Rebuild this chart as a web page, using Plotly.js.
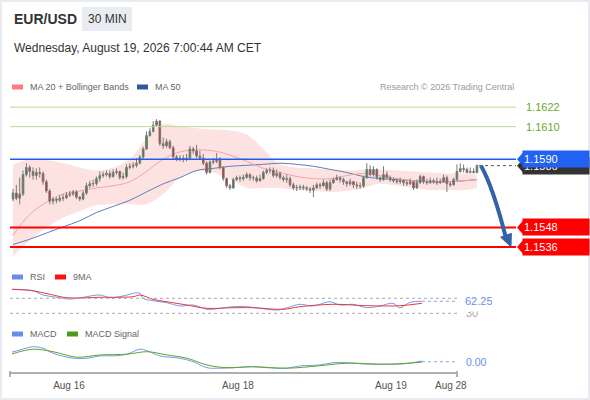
<!DOCTYPE html>
<html><head><meta charset="utf-8">
<script src="https://cdn.plot.ly/plotly-3.0.1.min.js"></script>
<style>html,body{margin:0;padding:0;background:#fff}#chart{width:590px;height:400px}</style>
</head><body><div id="chart"></div>
<script>
const W=590,H=400;
const px=x=>x/W, py=y=>1-y/H;
const FONT="Liberation Sans, Arial, sans-serif";

// ---- data ----
const opens=[1.15654,1.15692,1.15660,1.15685,1.15805,1.15849,1.15824,1.15799,1.15818,1.15812,
1.15761,1.15704,1.15641,1.15654,1.15647,1.15660,1.15662,1.15679,1.15685,1.15698,
1.15666,1.15654,1.15692,1.15736,1.15748,1.15750,1.15780,1.15799,1.15805,1.15812,
1.15793,1.15818,1.15824,1.15786,1.15793,1.15849,1.15856,1.15862,1.15875,1.15913,
1.15963,1.16045,1.16071,1.16109,1.16134,1.15995,1.15982,1.16007,1.15970,1.15913,
1.15900,1.15906,1.15898,1.15906,1.15963,1.15951,1.15919,1.15906,1.15875,1.15818,
1.15881,1.15887,1.15900,1.15849,1.15780,1.15736,1.15723,1.15774,1.15786,1.15780,
1.15788,1.15805,1.15786,1.15784,1.15767,1.15780,1.15818,1.15830,1.15832,1.15799,
1.15812,1.15786,1.15774,1.15780,1.15742,1.15723,1.15725,1.15729,1.15723,1.15717,
1.15710,1.15723,1.15742,1.15736,1.15755,1.15717,1.15755,1.15774,1.15786,1.15774,
1.15761,1.15748,1.15761,1.15742,1.15736,1.15734,1.15786,1.15837,1.15805,1.15837,
1.15786,1.15774,1.15805,1.15786,1.15774,1.15767,1.15761,1.15767,1.15755,1.15748,
1.15761,1.15723,1.15755,1.15793,1.15761,1.15755,1.15767,1.15761,1.15755,1.15761,
1.15786,1.15748,1.15742,1.15774,1.15824,1.15843,1.15837,1.15818,1.15824,1.15818];
const highs=[1.15717,1.15742,1.15786,1.15830,1.15875,1.15862,1.15849,1.15843,1.15849,1.15824,
1.15774,1.15717,1.15666,1.15666,1.15679,1.15685,1.15698,1.15704,1.15710,1.15710,
1.15673,1.15704,1.15755,1.15767,1.15774,1.15793,1.15824,1.15824,1.15830,1.15830,
1.15837,1.15843,1.15830,1.15818,1.15868,1.15875,1.15881,1.15906,1.15925,1.15976,
1.16071,1.16090,1.16134,1.16146,1.16140,1.16033,1.16026,1.16020,1.15982,1.15925,
1.15925,1.15925,1.15932,1.15982,1.15976,1.15988,1.15951,1.15932,1.15887,1.15894,
1.15906,1.15938,1.15913,1.15856,1.15786,1.15748,1.15786,1.15799,1.15799,1.15805,
1.15818,1.15812,1.15799,1.15799,1.15805,1.15830,1.15843,1.15849,1.15849,1.15837,
1.15824,1.15799,1.15805,1.15793,1.15755,1.15742,1.15742,1.15742,1.15736,1.15729,
1.15742,1.15755,1.15755,1.15774,1.15767,1.15774,1.15786,1.15805,1.15793,1.15786,
1.15767,1.15780,1.15767,1.15761,1.15755,1.15799,1.15875,1.15862,1.15856,1.15843,
1.15793,1.15856,1.15824,1.15799,1.15786,1.15780,1.15786,1.15774,1.15767,1.15780,
1.15761,1.15774,1.15805,1.15799,1.15780,1.15786,1.15780,1.15786,1.15780,1.15805,
1.15799,1.15761,1.15786,1.15868,1.15875,1.15868,1.15849,1.15849,1.15843,1.15868];
const lows=[1.15641,1.15647,1.15622,1.15673,1.15793,1.15786,1.15774,1.15774,1.15786,1.15742,
1.15692,1.15622,1.15622,1.15628,1.15635,1.15641,1.15654,1.15666,1.15673,1.15654,
1.15641,1.15647,1.15679,1.15723,1.15729,1.15736,1.15761,1.15786,1.15793,1.15780,
1.15786,1.15805,1.15774,1.15774,1.15780,1.15837,1.15843,1.15849,1.15868,1.15900,
1.15957,1.16039,1.16064,1.16102,1.15982,1.15963,1.15970,1.15963,1.15900,1.15887,
1.15887,1.15881,1.15887,1.15894,1.15932,1.15906,1.15894,1.15862,1.15805,1.15812,
1.15868,1.15875,1.15837,1.15767,1.15723,1.15710,1.15717,1.15767,1.15761,1.15767,
1.15780,1.15767,1.15767,1.15755,1.15761,1.15774,1.15805,1.15812,1.15786,1.15786,
1.15774,1.15761,1.15755,1.15729,1.15710,1.15704,1.15710,1.15710,1.15704,1.15692,
1.15666,1.15717,1.15717,1.15729,1.15704,1.15704,1.15748,1.15767,1.15755,1.15742,
1.15729,1.15736,1.15723,1.15717,1.15717,1.15723,1.15780,1.15793,1.15793,1.15774,
1.15761,1.15767,1.15780,1.15761,1.15755,1.15748,1.15748,1.15736,1.15736,1.15742,
1.15710,1.15717,1.15748,1.15748,1.15742,1.15748,1.15748,1.15742,1.15748,1.15755,
1.15698,1.15729,1.15736,1.15767,1.15818,1.15818,1.15812,1.15812,1.15812,1.15812];
const closes=[1.15692,1.15660,1.15685,1.15805,1.15849,1.15824,1.15799,1.15818,1.15812,1.15761,
1.15704,1.15641,1.15654,1.15647,1.15660,1.15662,1.15679,1.15685,1.15698,1.15666,
1.15654,1.15692,1.15736,1.15748,1.15750,1.15780,1.15799,1.15805,1.15812,1.15793,
1.15818,1.15824,1.15786,1.15793,1.15849,1.15856,1.15862,1.15875,1.15913,1.15963,
1.16045,1.16071,1.16109,1.16134,1.15995,1.15982,1.16007,1.15970,1.15913,1.15900,
1.15906,1.15898,1.15906,1.15963,1.15951,1.15919,1.15906,1.15875,1.15818,1.15881,
1.15887,1.15900,1.15849,1.15780,1.15736,1.15723,1.15774,1.15786,1.15780,1.15788,
1.15805,1.15786,1.15784,1.15767,1.15780,1.15818,1.15830,1.15832,1.15799,1.15812,
1.15786,1.15774,1.15780,1.15742,1.15723,1.15725,1.15729,1.15723,1.15717,1.15710,
1.15723,1.15742,1.15736,1.15755,1.15717,1.15755,1.15774,1.15786,1.15774,1.15761,
1.15748,1.15761,1.15742,1.15736,1.15734,1.15786,1.15837,1.15805,1.15837,1.15786,
1.15774,1.15805,1.15786,1.15774,1.15767,1.15761,1.15767,1.15755,1.15748,1.15761,
1.15723,1.15755,1.15793,1.15761,1.15755,1.15767,1.15761,1.15755,1.15761,1.15786,
1.15748,1.15742,1.15774,1.15824,1.15843,1.15837,1.15818,1.15824,1.15818,1.15860];

const maIdx=[0,5,10,15,20,25,30,35,40,45,50,55,60,65,70,75,80,85,90,95,100,105,110,115,120,125,130,135,139];
const ma20=[1.15432,1.15559,1.15635,1.15685,1.15704,1.15723,1.15736,1.15761,1.15824,1.15900,1.15944,1.15957,1.15951,1.15925,1.15887,1.15843,1.15818,1.15793,1.15780,1.15780,1.15799,1.15812,1.15799,1.15780,1.15767,1.15761,1.15761,1.15767,1.15774];
const ma50=[1.15375,1.15407,1.15445,1.15483,1.15521,1.15571,1.15609,1.15647,1.15698,1.15748,1.15786,1.15830,1.15843,1.15856,1.15862,1.15868,1.15875,1.15868,1.15856,1.15837,1.15818,1.15793,1.15780,1.15774,1.15767,1.15761,1.15761,1.15767,1.15774];
const bbUpper=[1.15868,1.15900,1.15894,1.15875,1.15849,1.15830,1.15849,1.15900,1.16026,1.16115,1.16102,1.16090,1.16083,1.16077,1.16052,1.15963,1.15868,1.15849,1.15843,1.15837,1.15830,1.15837,1.15837,1.15830,1.15824,1.15818,1.15812,1.15812,1.15805];
const bbLower=[1.15300,1.15400,1.15480,1.15540,1.15580,1.15616,1.15622,1.15622,1.15622,1.15685,1.15786,1.15824,1.15818,1.15774,1.15723,1.15723,1.15723,1.15710,1.15704,1.15698,1.15704,1.15723,1.15748,1.15736,1.15723,1.15710,1.15710,1.15710,1.15723];

const rsiIdx=[-0.2,6.9,10.3,15.0,19.4,23.9,29.6,33.0,37.4,42.2,43.2,44.2,47.6,52.3,56.7,61.2,65.9,70.3,74.7,79.5,83.9,89.6,93.1,97.4,101.8,107.6,111.0,115.4,120.2,124.6,129.0,131.3,134.7,138.8];
const rsiVals=[94,90.3,78.8,72.7,68.1,72.7,78.8,71.6,76.1,84.9,83.3,70,63.6,58.3,49.5,52.1,40.7,43.3,47.6,47.6,43.3,38.8,44.9,54,49.5,60.9,52.1,54,44.9,49.5,56.7,44.9,59,62.25];
const rsiMaIdx=[-0.2,6.9,12.7,18.4,29.6,40.8,43.2,47.6,52.3,59.1,65.9,74.7,81.5,91.7,97.4,108.6,120.2,131.3,138.8];
const rsiMaVals=[94,90,80.7,71.6,72.7,74.3,78.8,67.3,60.9,52.1,43.3,44.9,44.9,40.7,47.6,54,50.3,50.3,56.7];
const macdIdx=[-0.2,2.5,6.9,10.3,13.7,20.5,25.2,29.6,35.4,38.8,43.2,45.6,50.0,56.7,61.2,65.9,70.3,74.7,81.5,86.2,93.0,97.4,104.2,108.6,113.4,120.2,126.9,132.4,138.8];
const macdVals=[0.00038,0.00047,0.00060,0.00054,0.00034,0.00014,0.00014,0.00023,0.00024,0.00030,0.00050,0.00044,0.00023,0.00014,0.00000,-0.00024,-0.00026,-0.00024,-0.00020,-0.00024,-0.00026,-0.00017,-0.00013,-0.00004,-0.00004,-0.00010,-0.00010,-0.00009,0.00003];
const sigIdx=[-0.2,6.9,13.7,21.8,29.6,38.8,45.6,52.3,59.1,65.9,72.7,81.5,93.0,104.2,113.4,126.9,138.8];
const sigVals=[0.00031,0.00050,0.00040,0.00018,0.00027,0.00030,0.00040,0.00027,0.00014,-0.00013,-0.00024,-0.00020,-0.00026,-0.00016,-0.00006,-0.00010,-0.00002];

const levels=[1.1622,1.1610,1.1590,1.1548,1.1536];
const levelKinds=['res','res','pivot','sup','sup'];
const tickIdx=[19.1,76.4,128.3,148.6];
const tickText=['Aug 16','Aug 18','Aug 19','Aug 28'];
const rsiLevels=[70,30];
const lastPrice=1.1586, rsiLast=62.25, macdLast=0.00;
const target=1.1536;

// ---- layout geometry ----
const XR=[-0.9,150.7];
const YR=[1.152977,1.162948];
const N=closes.length, last=N-1;
const candleIdx=closes.map((_,i)=>i);

const traces=[
 {type:'scatter',x:maIdx,y:bbLower,mode:'lines',line:{width:0,shape:'spline',color:'rgba(0,0,0,0)'},xaxis:'x',yaxis:'y',hoverinfo:'skip'},
 {type:'scatter',x:maIdx,y:bbUpper,mode:'lines',line:{width:0,shape:'spline',color:'rgba(0,0,0,0)'},fill:'tonexty',fillcolor:'#fde2e2',xaxis:'x',yaxis:'y',hoverinfo:'skip'},
 {type:'scatter',x:maIdx,y:ma50,mode:'lines',line:{width:1,shape:'spline',color:'#5d80c0'},xaxis:'x',yaxis:'y'},
 {type:'scatter',x:maIdx,y:ma20,mode:'lines',line:{width:1,shape:'spline',color:'#f5a3a3'},xaxis:'x',yaxis:'y'},
 {type:'candlestick',x:candleIdx,open:opens,high:highs,low:lows,close:closes,xaxis:'x4',yaxis:'y4',
  increasing:{line:{color:'#7a7a7a',width:1},fillcolor:'#2e8a2e'},
  decreasing:{line:{color:'#7a7a7a',width:1},fillcolor:'#e01818'},whiskerwidth:0},
 {type:'scatter',x:rsiIdx,y:rsiVals,mode:'lines',line:{width:1,shape:'spline',color:'#7b98ea'},xaxis:'x2',yaxis:'y2'},
 {type:'scatter',x:rsiMaIdx,y:rsiMaVals,mode:'lines',line:{width:1,shape:'spline',color:'#e83a3a'},xaxis:'x2',yaxis:'y2'},
 {type:'scatter',x:macdIdx,y:macdVals,mode:'lines',line:{width:1,shape:'spline',color:'#7b98ea'},xaxis:'x3',yaxis:'y3'},
 {type:'scatter',x:sigIdx,y:sigVals,mode:'lines',line:{width:1,shape:'spline',color:'#5fa52a'},xaxis:'x3',yaxis:'y3'}
];

const shapes=[], ann=[];
// outer border
shapes.push({type:'rect',xref:'paper',yref:'paper',x0:px(1),x1:px(589),y0:py(399),y1:py(1),line:{color:'#e8ebef',width:2}});
// header badge
shapes.push({type:'rect',xref:'paper',yref:'paper',x0:px(82),x1:px(132),y0:py(31),y1:py(7),fillcolor:'#e9edf2',line:{width:0}});
ann.push({xref:'paper',yref:'paper',x:px(12),y:py(19),xanchor:'left',yanchor:'middle',text:'<b>EUR/USD</b>',showarrow:false,font:{family:FONT,size:14,color:'#333'}});
ann.push({xref:'paper',yref:'paper',x:px(107),y:py(19),xanchor:'center',yanchor:'middle',text:'30 MIN',showarrow:false,font:{family:FONT,size:12,color:'#333'}});
ann.push({xref:'paper',yref:'paper',x:px(12),y:py(48),xanchor:'left',yanchor:'middle',text:'Wednesday, August 19, 2026 7:00:44 AM CET',showarrow:false,font:{family:FONT,size:12,color:'#333'}});

function legendItem(x,y,color,text,tx){
  shapes.push({type:'rect',xref:'paper',yref:'paper',x0:px(x),x1:px(x+11),y0:py(y+2.5),y1:py(y-2.5),fillcolor:color,line:{width:0}});
  ann.push({xref:'paper',yref:'paper',x:px(tx),y:py(y),xanchor:'left',yanchor:'middle',text:text,showarrow:false,font:{family:FONT,size:9,color:'#666'}});
}
legendItem(12,87,'#ff7a7a','MA 20 + Bollinger Bands',28);
legendItem(137,87,'#2f5a9c','MA 50',153);
ann.push({xref:'paper',yref:'paper',x:px(516),y:py(87),xanchor:'right',yanchor:'middle',text:'Research © 2026 Trading Central',showarrow:false,font:{family:FONT,size:9,color:'#9a9a9a'}});
legendItem(12,277,'#6a8ee8','RSI',28);
legendItem(55,277,'#ff1010','9MA',71);
legendItem(12,334,'#6a8ee8','MACD',28);
legendItem(67,334,'#4c9a1c','MACD Signal',83);

// levels
const lvlColor={res:'#b8dc92',pivot:'#1f5cf0',sup:'#ff0000'};
const lvlWidth={res:1,pivot:1.5,sup:2};
levels.forEach((v,k)=>{
  const kind=levelKinds[k];
  shapes.push({type:'line',xref:'paper',yref:'y',x0:px(10),x1:px(516),y0:v,y1:v,line:{color:lvlColor[kind],width:lvlWidth[kind]}});
});
// current price dotted line + black label (behind pivot label)
shapes.push({type:'line',xref:'x',yref:'y',x0:last+0.6,x1:XR[1],y0:lastPrice,y1:lastPrice,line:{color:'#555',width:1,dash:'dot'}});
function boxLabel(v,color,text){
  shapes.push({type:'path',xref:'paper',yref:'y',ysizemode:'pixel',yanchor:v,
    path:`M ${px(517)},0 L ${px(524)},8 L ${px(524)},-8 Z`,fillcolor:color,line:{width:0}});
  ann.push({xref:'paper',yref:'y',x:1,y:v,xanchor:'right',yanchor:'middle',text:text,showarrow:false,
    bgcolor:color,width:64,height:14,align:'left',borderpad:1,font:{family:FONT,size:11,color:'#fff'}});
}
boxLabel(lastPrice,'#333333',lastPrice.toFixed(4));
levels.forEach((v,k)=>{
  const kind=levelKinds[k];
  if(kind==='res'){
    ann.push({xref:'paper',yref:'y',x:px(524),y:v,xanchor:'left',yanchor:'middle',text:v.toFixed(4),showarrow:false,font:{family:FONT,size:11,color:'#6aa82e'}});
  } else {
    boxLabel(v,kind==='pivot'?'#2162f2':'#ff0000',v.toFixed(4));
  }
});

// forecast arrow
const x0=last+1.2,y0=lastPrice-0.00001;
const cx=last+4.7,cy=lastPrice-0.00126;
const ex=last+8.6,ey=target+0.00062;
shapes.push({type:'path',xref:'x',yref:'y',path:`M ${x0},${y0} Q ${cx},${cy} ${ex},${ey}`,line:{color:'#3462a6',width:4}});
shapes.push({type:'path',xref:'x',yref:'y',path:`M ${last+10.2},${target} L ${last+10.3},${target+0.00083} L ${last+7.1},${target+0.00060} Z`,fillcolor:'#3462a6',line:{color:'#3462a6',width:1}});

// RSI levels
rsiLevels.forEach(v=>{
  shapes.push({type:'line',xref:'paper',yref:'y2',x0:px(10),x1:px(457),y0:v,y1:v,line:{color:'#aaaaaa',width:1,dash:'dot'}});
  ann.push({xref:'paper',yref:'y2',x:px(464),y:v,xanchor:'left',yanchor:'middle',text:String(v),showarrow:false,font:{family:FONT,size:11,color:'#aaa'}});
});
shapes.push({type:'line',xref:'x2',yref:'y2',x0:rsiIdx[rsiIdx.length-1],x1:XR[1]-0.6,y0:rsiLast,y1:rsiLast,line:{color:'#8aa0d8',width:1,dash:'dot'}});
ann.push({xref:'paper',yref:'y2',x:px(464),y:rsiLast,xanchor:'left',yanchor:'middle',text:rsiLast.toFixed(2),showarrow:false,bgcolor:'#ffffff',height:20,borderpad:0,font:{family:FONT,size:11,color:'#6a8ee8'}});
// MACD zero
shapes.push({type:'line',xref:'x3',yref:'y3',x0:macdIdx[macdIdx.length-1],x1:XR[1]-0.6,y0:0,y1:0,line:{color:'#8aa0d8',width:1,dash:'dot'}});
ann.push({xref:'paper',yref:'y3',x:px(464),y:0,xanchor:'left',yanchor:'middle',text:macdLast.toFixed(2),showarrow:false,font:{family:FONT,size:10.5,color:'#6a8ee8'}});
// axis end caps
[10,457].forEach(x=>shapes.push({type:'line',xref:'paper',yref:'paper',x0:px(x),x1:px(x),y0:py(371),y1:py(377),line:{color:'#b0b0b0',width:2}}));

const hidden={showgrid:false,zeroline:false,showticklabels:false,ticks:'',showline:false,fixedrange:true};
const layout={
  width:W,height:H,margin:{l:0,r:0,t:0,b:0},paper_bgcolor:'#fff',plot_bgcolor:'rgba(0,0,0,0)',showlegend:false,
  font:{family:FONT},
  xaxis:Object.assign({},hidden,{domain:[px(10),px(516)],range:XR,anchor:'y'}),
  yaxis:Object.assign({},hidden,{domain:[py(257),py(95)],range:YR,anchor:'x'}),
  xaxis4:Object.assign({},hidden,{overlaying:'x',range:XR,anchor:'y4',rangeslider:{visible:false}}),
  yaxis4:Object.assign({},hidden,{overlaying:'y',range:YR,anchor:'x4'}),
  xaxis2:Object.assign({},hidden,{domain:[px(10),px(457)],range:XR,anchor:'y2'}),
  yaxis2:Object.assign({},hidden,{domain:[py(318),py(285)],range:[17.5,105.5],anchor:'x2'}),
  xaxis3:Object.assign({},hidden,{domain:[px(10),px(457)],range:XR,anchor:'y3',showline:true,linecolor:'#b0b0b0',linewidth:2,
    showticklabels:true,tickmode:'array',tickvals:tickIdx,ticktext:tickText,tickfont:{family:FONT,size:10,color:'#555'},ticklabelstandoff:3}),
  yaxis3:Object.assign({},hidden,{domain:[py(371.7),py(340)],range:[-0.0004,0.000868],anchor:'x3'}),
  shapes:shapes,annotations:ann
};
Plotly.newPlot('chart',traces,layout,{staticPlot:true,displayModeBar:false});
</script></body></html>
